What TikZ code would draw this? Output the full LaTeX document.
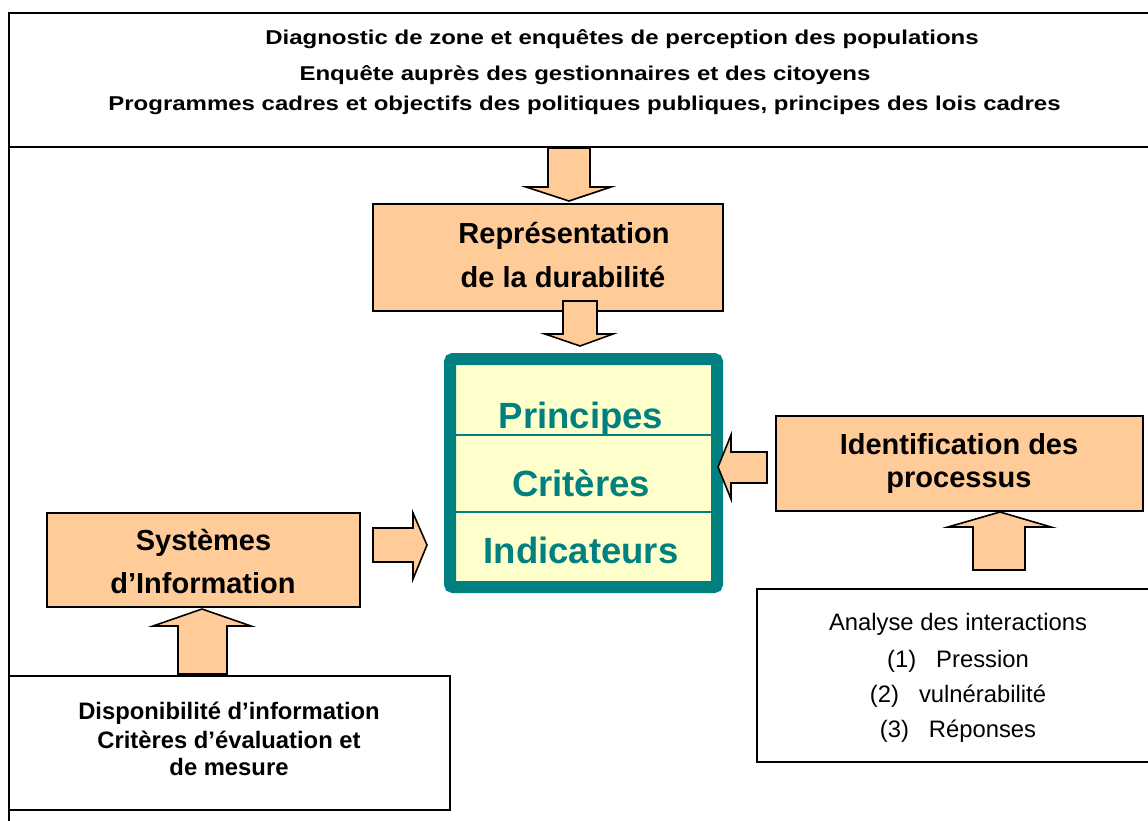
\documentclass[tikz,border=0pt]{standalone}
\usepackage{fontspec}
\setmainfont{Liberation Sans}
\newfontfamily\widesans[FakeStretch=1.2]{Liberation Sans}
\definecolor{peach}{HTML}{FFCC99}
\definecolor{tealc}{HTML}{008080}
\definecolor{paleyel}{HTML}{FFFFCC}
\tikzset{
  frameline/.style={draw=black, line width=2pt},
  peachbox/.style={draw=black, line width=1.8pt, fill=peach},
  whitebox/.style={draw=black, line width=2pt, fill=white},
  blockarrow/.style={draw=black, line width=1.6pt, fill=peach, line join=miter},
  toptext/.style={anchor=base, inner sep=0pt, font=\widesans\bfseries\fontsize{20}{24}\selectfont},
  boxtext/.style={anchor=base, inner sep=0pt, font=\bfseries\fontsize{29}{34}\selectfont},
  smalltext/.style={anchor=base, inner sep=0pt, font=\bfseries\fontsize{23.8}{28}\selectfont},
  plaintext/.style={anchor=base, inner sep=0pt, font=\fontsize{23.8}{28}\selectfont},
  pcitext/.style={anchor=base, inner sep=0pt, text=tealc, font=\bfseries\fontsize{36.5}{40}\selectfont},
}
\begin{document}
\begin{tikzpicture}[x=1pt, y=-1pt]
\useasboundingbox (0,0) rectangle (1148,820);
\fill[white] (0,0) rectangle (1148,820);

% outer frame and top box
\draw[frameline] (9,147) -- (9,830);
\draw[frameline] (9,13) rectangle (1170,147);
\node[toptext] (t1) at (622,44) {Diagnostic de zone et enquêtes de perception des populations};
\node[toptext] (t2) at (585,80) {Enquête auprès des gestionnaires et des citoyens};
\node[toptext] (t3) at (584.5,110) {Programmes cadres et objectifs des politiques publiques, principes des lois cadres};

% Représentation box
\draw[peachbox] (373,204) rectangle (723,311);
\node[boxtext] (rep1) at (564,243) {Représentation};
\node[boxtext] (rep2) at (563,287) {de la durabilité};

% central box
\draw[fill=paleyel, draw=tealc, line width=12pt, rounded corners=3pt] (450,359) rectangle (717,587);
\draw[tealc, line width=1.8pt] (456,435) -- (711,435);
\draw[tealc, line width=1.8pt] (456,512) -- (711,512);
\node[pcitext] (pr) at (581,428) {Principes};
\node[pcitext] (cr) at (581,496) {Critères};
\node[pcitext] (in) at (581,563) {Indicateurs};

% Identification box
\draw[peachbox] (776,416) rectangle (1143,511);
\node[boxtext] (id1) at (959,454) {Identification des};
\node[boxtext] (id2) at (959,487) {processus};

% Systèmes box
\draw[peachbox] (47,513) rectangle (360,607);
\node[boxtext] (sy1) at (203.5,550) {Systèmes};
\node[boxtext] (sy2) at (203,593) {d’Information};

% Disponibilité box
\draw[whitebox] (9,676) rectangle (450,810);
\node[smalltext] (d1) at (229,719) {Disponibilité d’information};
\node[smalltext] (d2) at (229,748) {Critères d’évaluation et};
\node[smalltext] (d3) at (229,775) {de mesure};

% Analyse box
\draw[whitebox] (757,589) rectangle (1170,762);
\node[plaintext] (a1) at (958,630) {Analyse des interactions};
\node[plaintext] (a2) at (958,667) {(1)\hspace{20pt}Pression};
\node[plaintext] (a3) at (958,702) {(2)\hspace{20pt}vulnérabilité};
\node[plaintext] (a4) at (958,737) {(3)\hspace{20pt}Réponses};

% block arrows
% top -> Représentation
\draw[blockarrow] (548,148) -- (590,148) -- (590,187) -- (611,187) -- (569,201) -- (526,187) -- (548,187) -- cycle;
% Représentation -> centre
\draw[blockarrow] (563,301) -- (597,301) -- (597,334) -- (613,334) -- (580,346) -- (545,334) -- (563,334) -- cycle;
% Identification -> centre
\draw[blockarrow] (767,452) -- (767,483) -- (731,483) -- (731,499) -- (718,467) -- (731,435) -- (731,452) -- cycle;
% Analyse -> Identification
\draw[blockarrow] (973,570) -- (1025,570) -- (1025,527) -- (1051,527) -- (1000,512) -- (948,527) -- (973,527) -- cycle;
% Systèmes -> centre
\draw[blockarrow] (373,528) -- (413,528) -- (413,513) -- (427,545) -- (413,579) -- (413,562) -- (373,562) -- cycle;
% Disponibilité -> Systèmes
\draw[blockarrow] (178,674) -- (227,674) -- (227,626) -- (251,626) -- (202,609) -- (153,626) -- (178,626) -- cycle;
\end{tikzpicture}
\end{document}
